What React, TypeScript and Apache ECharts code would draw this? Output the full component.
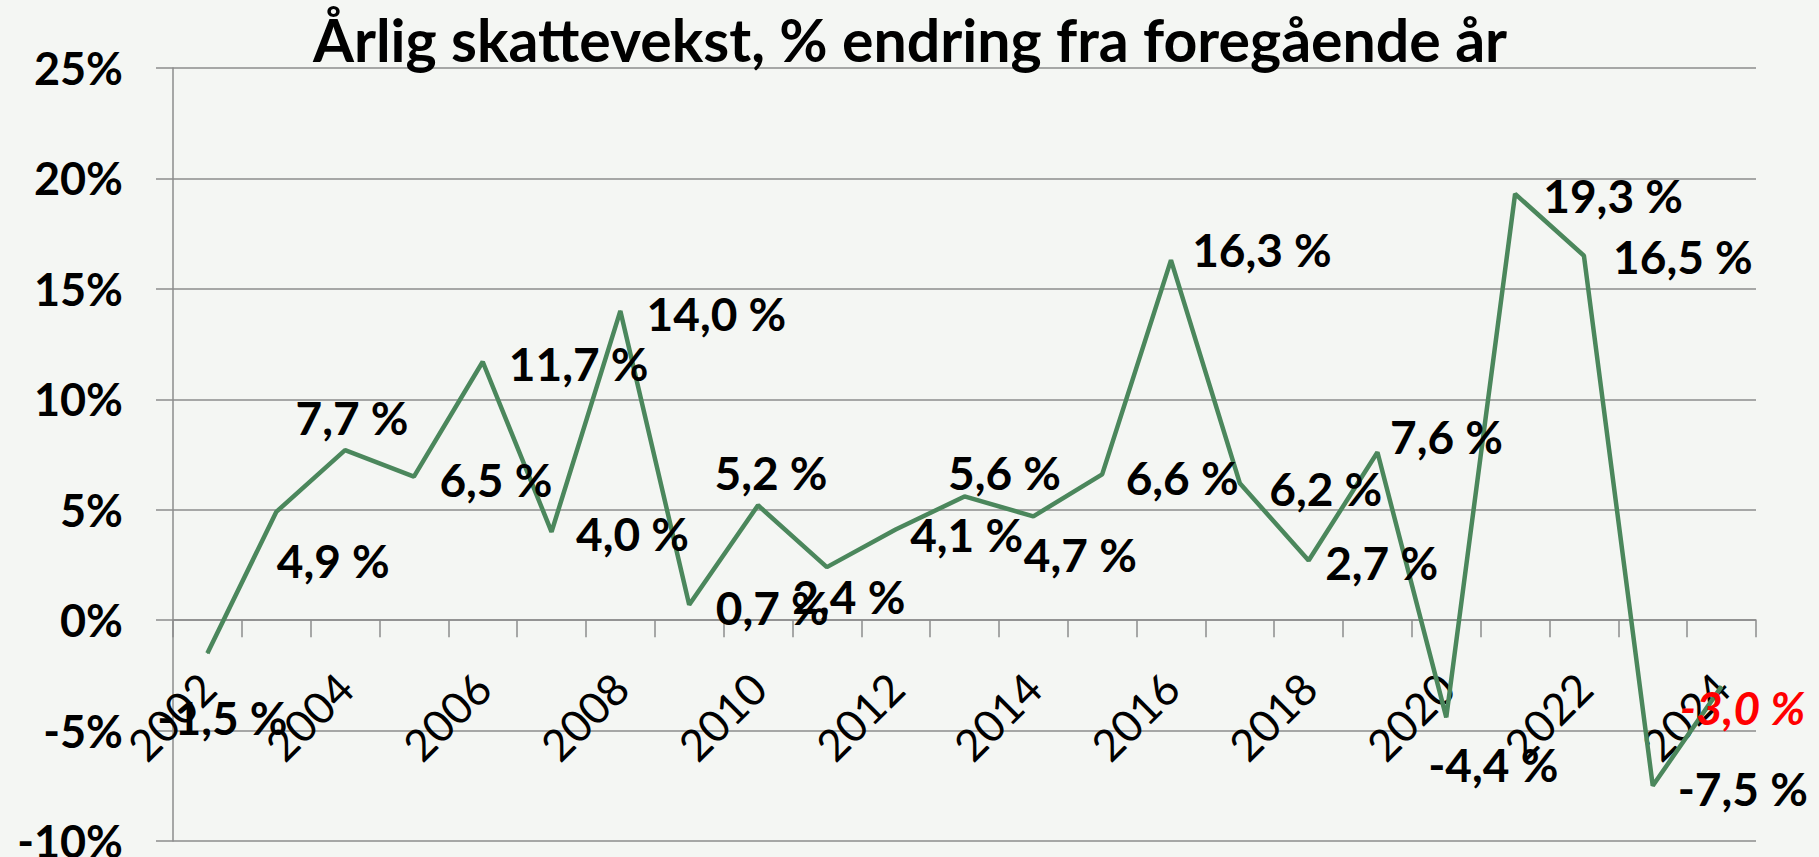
import React, { useEffect, useRef } from "react";
import * as echarts from "echarts";

const titleText = "Årlig skattevekst, % endring fra foregående år";
const years = [
  "2002", "2003", "2004", "2005", "2006", "2007", "2008", "2009", "2010", "2011", "2012", "2013",
  "2014", "2015", "2016", "2017", "2018", "2019", "2020", "2021", "2022", "2023", "2024",
];
const growth = [
  -1.5, 4.9, 7.7, 6.5, 11.7, 4.0, 14.0, 0.7, 5.2, 2.4, 4.1, 5.6,
  4.7, 6.6, 16.3, 6.2, 2.7, 7.6, -4.4, 19.3, 16.5, -7.5, -3.0,
];
const highlightYear = "2024";
const yMin = -10;
const yMax = 25;
const yStep = 5;

// label centre offsets (px) from each point
const labelOffsets: [number, number][] = [
  [15, 64], [57, 49], [7, -33], [82, 3], [96, 2], [81, 2], [96, 3], [83, 3], [13, -33], [22, 29], [71, 5], [40, -24],
  [47, 38], [80, 3], [91, -11], [86, 5], [73, 2], [69, -16], [47, 47], [98, 2], [99, 1], [90, 3], [21, 21],
];

const FONT = "Lato";
const W = 1819;
const H = 857;
const GRID = { left: 173, right: 63, top: 68, bottom: 16 };

export default function App() {
  const ref = useRef<HTMLDivElement>(null);
  useEffect(() => {
    if (!ref.current) return;
    const chart = echarts.init(ref.current, undefined, { renderer: "svg" });
    const fmt = (v: number) => v.toFixed(1).replace(".", ",") + " %";
    const plotH = H - GRID.top - GRID.bottom;
    const zeroFromBottom = ((0 - yMin) / (yMax - yMin)) * plotH;
    chart.setOption({
      animation: false,
      backgroundColor: "#f4f6f3",
      textStyle: { fontFamily: FONT },
      title: {
        text: titleText,
        left: 308,
        top: 5,
        textStyle: { fontFamily: FONT, fontWeight: "bold", fontSize: 59, color: "#000" },
      },
      grid: {
        left: GRID.left,
        right: GRID.right,
        top: GRID.top,
        bottom: GRID.bottom,
        containLabel: false,
        outerBoundsMode: "none",
      },
      xAxis: {
        type: "category",
        data: years,
        boundaryGap: true,
        position: "bottom",
        offset: -zeroFromBottom,
        axisLine: { show: true, onZero: false, lineStyle: { color: "#8c8c8c", width: 1.5 } },
        axisTick: { show: true, interval: 0, length: 17, lineStyle: { color: "#8c8c8c", width: 1.5 } },
        axisLabel: {
          interval: 1,
          rotate: 45,
          margin: 60,
          fontFamily: FONT,
          fontSize: 44,
          color: "#000",
        },
        splitLine: { show: false },
      },
      yAxis: {
        type: "value",
        min: yMin,
        max: yMax,
        interval: yStep,
        axisLine: { show: true, lineStyle: { color: "#8c8c8c", width: 1.5 } },
        axisTick: { show: true, length: 17, lineStyle: { color: "#8c8c8c", width: 1.5 } },
        axisLabel: {
          margin: 50,
          fontFamily: FONT,
          fontWeight: "bold",
          fontSize: 45,
          color: "#000",
          formatter: (v: number) => v + "%",
        },
        splitLine: { show: true, lineStyle: { color: "#8c8c8c", width: 1.5 } },
      },
      series: [
        {
          type: "line",
          data: growth.map((v, i) => ({
            value: v,
            label:
              years[i] === highlightYear
                ? { offset: labelOffsets[i], color: "#ff0000", fontStyle: "italic" }
                : { offset: labelOffsets[i] },
          })),
          symbol: "circle",
          symbolSize: 1,
          showSymbol: true,
          lineStyle: { color: "#4b875c", width: 4.5 },
          itemStyle: { color: "#4b875c" },
          label: {
            show: true,
            position: "inside",
            fontFamily: FONT,
            fontWeight: "bold",
            fontSize: 46,
            color: "#000",
            formatter: (p: any) => fmt(p.value),
          },
          z: 3,
        },
      ],
    });
    return () => chart.dispose();
  }, []);
  return (
    <div
      ref={ref}
      style={{ position: "fixed", left: 0, top: 0, width: W, height: H }}
    />
  );
}
